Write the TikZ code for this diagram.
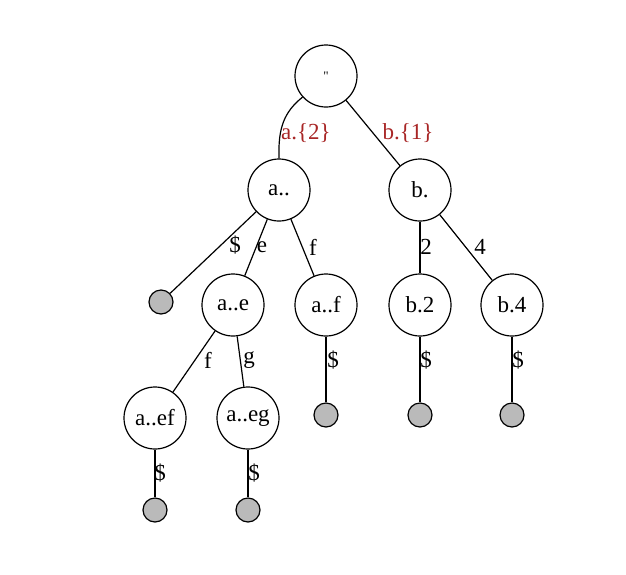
\documentclass[tikz,border=0pt]{standalone}
\usepackage{fontspec}
\setmainfont{Liberation Serif}
\newfontfamily\qfont{Liberation Serif}
\begin{document}
\begin{tikzpicture}[x=1pt,y=-1pt,
  st/.style={circle,draw,line width=1.2pt,minimum size=62pt,inner sep=0pt,font=\fontsize{23}{25}\selectfont},
  leaf/.style={circle,draw,line width=1.2pt,fill=black!27,minimum size=24pt,inner sep=0pt},
  lab/.style={font=\fontsize{23}{25}\selectfont,inner sep=0pt},
  rlab/.style={lab,text=red!60!black!85},
  edge/.style={line width=1.2pt}]
\useasboundingbox (0,0) rectangle (626,574);
\node[st] (root) at (326,76) {\qfont\fontsize{13}{13}\selectfont\symbol{34}};
\node[st] (a) at (279,190) {a..};
\node[st] (b) at (420,190) {b.};
\node[leaf] (l1) at (161,302) {};
\node[st] (ae) at (233,305) {a..e};
\node[st] (af) at (326,305) {a..f};
\node[st] (b2) at (420,305) {b.2};
\node[st] (b4) at (512,305) {b.4};
\node[st] (aef) at (155,418) {a..ef};
\node[st] (aeg) at (248,418) {a..eg};
\node[leaf] (l2) at (326,415) {};
\node[leaf] (l3) at (420,415) {};
\node[leaf] (l4) at (512,415) {};
\node[leaf] (l5) at (155,510) {};
\node[leaf] (l6) at (248,510) {};
\draw[edge] (root.-138) .. controls (284,112) and (278,128) .. (a.north);
\draw[edge] (root) -- (b);
\draw[edge] (a) -- (l1);
\draw[edge] (a) -- (ae);
\draw[edge] (a) -- (af);
\draw[edge] (b) -- (b2);
\draw[edge] (b) -- (b4);
\draw[edge] (ae) -- (aef);
\draw[edge] (ae) -- (aeg);
\draw[edge] (af) -- (l2);
\draw[edge] (b2) -- (l3);
\draw[edge] (b4) -- (l4);
\draw[edge] (aef) -- (l5);
\draw[edge] (aeg) -- (l6);
\node[rlab] (la) at (306,133) {a.\{2\}};
\node[rlab] (lb) at (408,133) {b.\{1\}};
\node[lab] (t1) at (235,245) {\$};
\node[lab] (t2) at (262,247) {e};
\node[lab] (t3) at (313,247) {f};
\node[lab] (t4) at (426,247) {2};
\node[lab] (t5) at (480,247) {4};
\node[lab] (t6) at (208,360) {f};
\node[lab] (t7) at (249,360) {g};
\node[lab] (t8) at (333,360) {\$};
\node[lab] (t9) at (426,360) {\$};
\node[lab] (t10) at (518,360) {\$};
\node[lab] (t11) at (160,473) {\$};
\node[lab] (t12) at (254,473) {\$};
\end{tikzpicture}
\end{document}
